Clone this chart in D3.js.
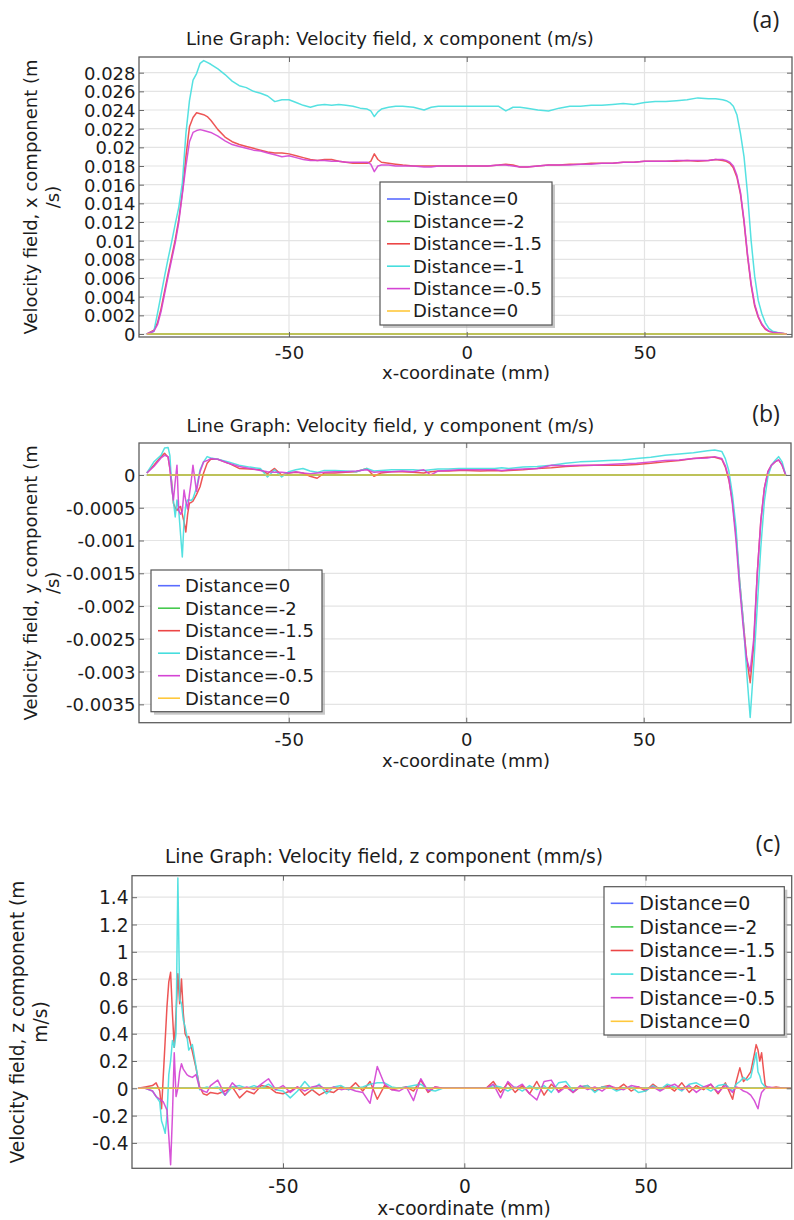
<!DOCTYPE html>
<html><head><meta charset="utf-8">
<script src="https://cdn.jsdelivr.net/npm/d3@7"></script>
<style>
body{margin:0;background:#fff;}
svg{display:block;font-family:"DejaVu Sans",sans-serif;}
</style></head><body>
<svg id="chart" width="794" height="1220"></svg>
<script>
// ---------------- shared ----------------
const seriesNames = ["Distance=0","Distance=-2","Distance=-1.5","Distance=-1","Distance=-0.5","Distance=0"];
const seriesColors = ["#5a6cff","#46c94e","#ec4646","#46dede","#d444d4","#ffc83c"];
const xTicks = [-50, 0, 50];
const xTickLabels = ["-50", "0", "50"];
const zeroX = [-90, 90];
const zeroY = [0, 0];

// ---------------- panel (a): x component (m/s) ----------------
const aX = [-90,-88,-87,-86,-85,-84,-83,-82,-81,-80,-79,-78,-77,-76,-75,-74,-73,-72,-70,-68,-66,-64,-62,-60,-58,-56,-54,-52,-50,-48,-46,-44,-42,-40,-38,-36,-34,-32,-30,-28,-27,-26,-25,-24,-22,-20,-18,-15,-12,-10,-8,-5,-2,0,3,6,9,11,13,15,17,20,23,26,29,32,35,38,41,44,47,50,53,56,59,62,65,68,70,72,73,74,75,76,77,78,79,80,81,82,83,84,85,86,88,90];
const aRed = [0,0.0004,0.0012,0.0027,0.0046,0.0065,0.0083,0.0101,0.0123,0.0152,
0.0190,0.0222,0.0232,0.0237,0.0236,0.0235,0.0233,0.0229,
0.0219,0.0211,0.0206,0.0203,0.0201,0.0199,0.0197,0.0195,0.0194,0.0194,
0.0193,0.0191,0.0189,0.0187,0.0186,0.0187,0.0187,0.0185,0.0184,0.0183,
0.0183,0.0183,0.0185,0.0193,0.0187,0.0184,0.0183,0.0182,0.0181,0.0180,
0.0180,0.0180,0.0180,0.0180,0.0180,0.0180,0.0180,0.0180,0.0181,0.0182,
0.0181,0.0179,0.0179,0.0180,0.0181,0.0181,0.0182,0.0182,0.0183,0.0183,
0.0183,0.0184,0.0184,0.0185,0.0185,0.0185,0.0185,0.0186,0.0185,0.0186,
0.0187,0.0186,0.0185,0.0183,0.0178,0.0168,0.0150,0.0120,0.0083,0.0052,
0.0030,0.0018,0.0010,0.0005,0.0003,0.0002,0.0001,0];
const aCyan = [0,0.0003,0.0022,0.0042,0.0062,0.0081,0.0099,0.0118,0.0136,0.0162,
0.0215,0.0250,0.0272,0.0279,0.0290,0.0293,0.0291,0.0289,
0.0284,0.0278,0.0271,0.0266,0.0264,0.0260,0.0258,0.0255,0.0249,0.0251,
0.0251,0.0248,0.0245,0.0243,0.0245,0.0246,0.0245,0.0246,0.0245,0.0244,
0.0242,0.0241,0.0239,0.0233,0.0238,0.0241,0.0243,0.0244,0.0244,0.0243,
0.0240,0.0243,0.0244,0.0244,0.0244,0.0244,0.0244,0.0244,0.0244,0.0239,
0.0243,0.0243,0.0242,0.0240,0.0239,0.0242,0.0244,0.0244,0.0245,0.0245,
0.0246,0.0247,0.0246,0.0248,0.0249,0.0249,0.0250,0.0251,0.0253,0.0252,
0.0252,0.0251,0.0250,0.0248,0.0244,0.0235,0.0215,0.0190,0.0150,0.0100,
0.0062,0.0036,0.0022,0.0012,0.0006,0.0003,0.0001,0];
const aMagenta = [0,0.0003,0.0010,0.0024,0.0043,0.0062,0.0080,0.0098,0.0120,0.0150,
0.0180,0.0206,0.0216,0.0218,0.0219,0.0218,0.0217,0.0216,
0.0212,0.0207,0.0203,0.0201,0.0199,0.0197,0.0196,0.0194,0.0192,0.0190,
0.0191,0.0189,0.0187,0.0186,0.0186,0.0186,0.0185,0.0185,0.0184,0.0184,
0.0184,0.0184,0.0182,0.0174,0.0180,0.0181,0.0181,0.0180,0.0180,0.0180,
0.0179,0.0179,0.0180,0.0180,0.0180,0.0180,0.0180,0.0180,0.0181,0.0181,
0.0180,0.0179,0.0179,0.0180,0.0181,0.0181,0.0181,0.0182,0.0182,0.0183,
0.0183,0.0184,0.0184,0.0185,0.0185,0.0185,0.0186,0.0186,0.0186,0.0186,
0.0187,0.0187,0.0186,0.0184,0.0180,0.0170,0.0152,0.0122,0.0085,0.0054,
0.0032,0.0019,0.0011,0.0006,0.0003,0.0002,0.0001,0];
const aYTicks = [0,0.002,0.004,0.006,0.008,0.01,0.012,0.014,0.016,0.018,0.02,0.022,0.024,0.026,0.028];
const aYTickLabels = ["0","0.002","0.004","0.006","0.008","0.01","0.012","0.014","0.016","0.018","0.02","0.022","0.024","0.026","0.028"];

// ---------------- panel (b): y component (m/s) ----------------
const bX = [-90,-88,-86,-85,-84,-83.5,-83,-82.5,-82,-81.5,-81,-80.5,-80,-79.5,-79,-78.5,-78,-77.5,-77,-76,-75,-74,-73,-72,-70,-67,-64,-61,-58,-56,-54,-52,-50,-48,-46,-44,-42,-40,-37,-34,-31,-28,-26,-24,-21,-18,-15,-12,-10,-8,-5,-2,0,4,8,10,12,16,20,24,28,32,36,40,44,48,52,56,60,64,68,70,72,73,74,75,76,77,78,79,80,81,82,83,84,85,86,87,88,89,90];
const bRed = [0.00003,0.00015,0.00028,0.00033,0.00027,0.0001,-0.0001,-0.00043,-0.0005,-0.00054,
-0.0005,-0.00048,-0.0006,-0.00072,-0.00087,-0.0006,-0.00043,-0.00042,-0.0004,-0.0003,
-0.00018,0.00003,0.00018,0.00024,0.00024,0.00018,0.0001,0.00009,0.00008,0.00002,
0.0001,0,0.00003,0.00004,0.00003,-0.00002,-0.00005,0.00003,0.00003,0.00004,
0.00005,0.0001,-0.00002,0.00003,0.00005,0.00005,0.00004,0.00003,0.00005,0.00006,
0.00006,0.00007,0.00007,0.00006,0.00007,0.00006,0.00007,0.00008,0.0001,0.00011,
0.00013,0.00014,0.00015,0.00015,0.00015,0.00016,0.00018,0.0002,0.00022,0.00025,
0.00027,0.00027,0.00024,0.00012,-0.00008,-0.0004,-0.0009,-0.0016,-0.0022,-0.0028,
-0.00317,-0.0026,-0.0015,-0.0007,-0.0002,0.00005,0.00015,0.0002,0.00023,0.00015,
0];
const bCyan = [0.00003,0.0002,0.0003,0.00041,0.00042,0.0003,-0.00015,-0.0004,-0.00064,-0.00038,
-0.00054,-0.0009,-0.00125,-0.0007,-0.00045,-0.00038,-0.00038,-0.00039,-0.00036,-0.0002,
0.00008,0.0002,0.00028,0.00026,0.00024,0.0002,0.00015,0.00012,0.0001,-0.00003,
0.00008,-0.00003,0.00005,0.00008,0.0001,0.00006,0.00004,0.00007,0.00007,0.00006,
0.00005,0.0001,0.00006,0.00007,0.00008,0.00008,0.00008,0.00007,0.00008,0.00009,
0.00009,0.0001,0.0001,0.0001,0.0001,0.00011,0.0001,0.00012,0.00013,0.00015,
0.00018,0.0002,0.00021,0.00022,0.00023,0.00025,0.00027,0.0003,0.00032,0.00034,
0.00037,0.00038,0.00036,0.00025,0.00006,-0.0003,-0.0008,-0.0016,-0.0022,-0.0030,
-0.0037,-0.0029,-0.0020,-0.0011,-0.0004,-0.00002,0.00015,0.00022,0.00028,0.0002,
0];
const bMagenta = [0.00003,0.00013,0.00026,0.0003,0.00028,0.0001,-0.0002,-0.00038,-0.0001,0.00015,
-0.00054,-0.0006,-0.00055,-0.00023,-0.0004,-0.00052,-0.0003,-0.0001,0.00015,-0.00025,
0.00005,0.0002,0.00022,0.00025,0.00024,0.00018,0.00013,0.0001,0.00007,0.00005,
0.00004,0.00004,0.00003,0.00005,0.00003,0.00002,0.00003,0.00004,0.00005,0.00005,
0.00006,0.00008,0.00004,0.00005,0.00005,0.00006,0.00005,0.00008,0,0.00006,
0.00007,0.00008,0.00008,0.00008,0.00008,0.00007,0.00008,0.00009,0.0001,0.00015,
0.00014,0.00015,0.00015,0.00016,0.00017,0.00018,0.0002,0.00022,0.00023,0.00025,
0.00026,0.00028,0.00025,0.00014,-0.00005,-0.00045,-0.001,-0.0017,-0.0023,-0.0028,
-0.0030,-0.0025,-0.0015,-0.0007,-0.0002,0.00005,0.00015,0.0002,0.00023,0.00015,
0];
const bYTicks = [0,-0.0005,-0.001,-0.0015,-0.002,-0.0025,-0.003,-0.0035];
const bYTickLabels = ["0","-0.0005","-0.001","-0.0015","-0.002","-0.0025","-0.003","-0.0035"];

// ---------------- panel (c): z component (mm/s) ----------------
const cX = [-90,-88,-86,-85,-84,-83.5,-83,-82.5,-82,-81.5,
-81,-80.5,-80,-79.5,-79,-78.5,-78,-77.5,-77,-76.5,
-76,-75,-74,-73,-72,-71,-70,-68,-66,-64,
-62,-60,-58,-56,-54,-52,-50,-48,-46,-44,
-42,-40,-38,-36,-34,-32,-30,-28,-26,-24,
-22,-20,-18,-16,-14,-12,-10,-8,-6,-4,
-2,0,2,4,6,8,10,12,14,16,
18,20,22,24,26,28,30,32,34,36,
38,40,42,44,46,48,50,52,54,56,
58,60,62,64,66,68,70,72,74,75,
76,77,78,79,80,80.5,81,81.5,82,83,
84,86,88,90];
const cRed = [0,0.01,0.02,0.04,-0.02,-0.15,0.1,0.35,0.6,0.78,
0.85,0.55,0.3,0.55,0.84,0.62,0.8,0.55,0.4,0.37,
0.38,0.27,0.15,0.01,-0.04,-0.05,-0.03,-0.04,-0.02,0.01,
-0.07,-0.02,-0.04,0.02,0.01,-0.03,-0.04,-0.02,0.01,-0.05,
-0.01,-0.05,-0.02,-0.03,0.01,-0.01,0.04,-0.02,0.05,-0.08,
0.02,-0.01,0,0.01,-0.02,0.06,-0.03,0.01,0,0,
0,0,0,0,0,0.05,-0.03,0.04,-0.03,0.02,
-0.04,0.05,-0.05,0.03,-0.02,0.02,-0.03,0.01,0.02,-0.02,
0.01,0.02,-0.01,0.03,-0.02,0.01,-0.02,0.03,-0.01,0.02,
-0.02,0.04,-0.03,0.02,-0.01,0.03,-0.04,0.04,-0.08,0.05,
0.15,0.05,0.08,0.12,0.25,0.32,0.28,0.2,0.26,0.02,
0,0.01,0,0];
const cCyan = [0,0,-0.02,-0.06,-0.1,-0.24,-0.28,-0.33,-0.2,0.1,
0.2,0.35,0.3,0.4,1.54,0.65,0.62,0.5,0.45,0.38,
0.28,0.32,0.16,-0.01,0,0.01,0,0.01,-0.05,0.01,
0.02,0,0.02,0,0.03,-0.01,-0.02,-0.07,-0.02,0.05,
-0.01,0.03,-0.04,0.01,0.02,-0.01,0,0.01,0.03,0.04,
0.04,0.01,0,0.01,0.02,0.03,-0.01,-0.02,0,0,
0,0,0,0,0,0.02,0.01,-0.02,0.01,-0.02,
0.02,-0.01,0.02,-0.03,0.04,0.05,-0.02,0.01,0.02,-0.03,
0.01,0.01,-0.02,0,0.01,-0.03,-0.02,0.02,-0.01,0.03,
0.01,-0.02,0.03,0.04,0.01,-0.02,0.02,0.03,-0.02,0.03,
0.05,0.08,0.06,0.08,0.2,0.26,0.12,0.09,0.04,0.01,
0,0,0,0];
const cMagenta = [0,0,-0.02,-0.06,-0.08,-0.09,-0.1,-0.13,-0.16,-0.35,
-0.56,-0.2,0.26,-0.06,0,0.12,0.18,0.14,0.12,0.1,
0.09,0.08,0.1,0,-0.02,-0.03,0.02,0.06,-0.05,0.04,
-0.01,0.01,-0.01,0.03,0.07,-0.01,0.02,-0.03,0.01,-0.02,
0.01,0.02,-0.01,0.01,-0.01,0,-0.02,-0.03,-0.11,0.16,
0.03,-0.01,-0.02,0.01,-0.09,0.07,-0.02,0.01,0,0,
0,0,0,0,0,0.03,-0.07,0.05,0,0.03,
-0.04,-0.085,0.05,0.06,-0.03,0.01,-0.03,0.02,-0.01,0.01,
-0.02,0.02,0,-0.01,0.02,0.01,-0.01,0.01,-0.02,0.01,
0.03,-0.01,0.02,-0.03,0.01,0.03,-0.03,0.02,-0.03,0.01,
0,-0.02,-0.03,-0.05,-0.09,-0.12,-0.15,-0.08,-0.03,0,
0.01,0,0,0];
const cYTicks = [-0.4,-0.2,0,0.2,0.4,0.6,0.8,1,1.2,1.4];
const cYTickLabels = ["-0.4","-0.2","0","0.2","0.4","0.6","0.8","1","1.2","1.4"];

// ---------------- layout ----------------
const panels = [
  { key:"a", title:"Line Graph: Velocity field, x component (m/s)", tag:"(a)",
    ylab:["Velocity field, x component (m","/s)"],
    xs:aX, vals:[zeroY,zeroY,aRed,aCyan,aMagenta,zeroY],
    yTicks:aYTicks, yLabels:aYTickLabels,
    xDomain:[-92.2,91.5], yDomain:[-0.00032,0.02968],
    left:139, right:792, top:57, bottom:337,
    fs:18, titleX:390, titleY:45, tagX:766, tagY:28,
    ylabX:[37,59], xTickY:358.5, xLabX:466, xLabY:379,
    leg:{x:380,y:182,w:172,h:143,row0:199,dy:22.4,s0:387,s1:410,tx:413,fs:18} },
  { key:"b", title:"Line Graph: Velocity field, y component (m/s)", tag:"(b)",
    ylab:["Velocity field, y component (m","/s)"],
    xs:bX, vals:[zeroY,zeroY,bRed,bCyan,bMagenta,zeroY],
    yTicks:bYTicks, yLabels:bYTickLabels,
    xDomain:[-92.2,91.5], yDomain:[-0.00378,0.000488],
    left:139, right:791, top:443, bottom:722.7,
    fs:18, titleX:390.5, titleY:432, tagX:766, tagY:422,
    ylabX:[37,59], xTickY:746, xLabX:466, xLabY:767,
    leg:{x:151,y:570,w:171,h:141.7,row0:585.7,dy:22.5,s0:158,s1:180,tx:185,fs:18} },
  { key:"c", title:"Line Graph: Velocity field, z component (mm/s)", tag:"(c)",
    ylab:["Velocity field, z component (m","m/s)"],
    xs:cX, vals:[zeroY,zeroY,cRed,cCyan,cMagenta,zeroY],
    yTicks:cYTicks, yLabels:cYTickLabels,
    xDomain:[-91.65,90.3], yDomain:[-0.586,1.5575],
    left:132, right:791.7, top:875.7, bottom:1168.3,
    fs:18.6, titleX:384, titleY:863, tagX:768, tagY:852,
    ylabX:[24,47], xTickY:1193, xLabX:464, xLabY:1215,
    leg:{x:604,y:886.7,w:180.3,h:148.3,row0:903.3,dy:23.6,s0:610.7,s1:633.3,tx:639.3,fs:19} }
];

const svg = d3.select("#chart");
const textColor = "#1c1c1c";

panels.forEach(p => {
  const g = svg.append("g");
  const x = d3.scaleLinear().domain(p.xDomain).range([p.left, p.right]);
  const y = d3.scaleLinear().domain(p.yDomain).range([p.bottom, p.top]);

  // grid
  g.append("g").selectAll("line.h").data(p.yTicks).join("line")
    .attr("x1", p.left).attr("x2", p.right)
    .attr("y1", d => y(d)).attr("y2", d => y(d))
    .attr("stroke", "#e4e4e4").attr("stroke-width", 1.2);
  g.append("g").selectAll("line.v").data(xTicks).join("line")
    .attr("y1", p.top).attr("y2", p.bottom)
    .attr("x1", d => x(d)).attr("x2", d => x(d))
    .attr("stroke", "#e4e4e4").attr("stroke-width", 1.2);

  // lines
  const clipId = "clip-" + p.key;
  svg.append("defs").append("clipPath").attr("id", clipId).append("rect")
    .attr("x", p.left).attr("y", p.top).attr("width", p.right - p.left).attr("height", p.bottom - p.top);
  const lg = g.append("g").attr("clip-path", `url(#${clipId})`);
  p.vals.forEach((vals, i) => {
    const xs = vals === zeroY ? zeroX : p.xs;
    const pts = xs.map((xv, j) => [xv, vals[j]]);
    lg.append("path")
      .attr("d", d3.line().x(d => x(d[0])).y(d => y(d[1]))(pts))
      .attr("fill", "none")
      .attr("stroke", seriesColors[i])
      .attr("stroke-width", 1.5)
      .attr("stroke-opacity", i === 5 ? 0.8 : 0.92)
      .attr("stroke-linejoin", "round");
  });

  // axes (inward ticks)
  const fs = p.fs;
  const ax = g.append("g").attr("transform", `translate(${p.left},0)`)
    .call(d3.axisLeft(y).tickValues(p.yTicks).tickFormat((d, i) => p.yLabels[i])
      .tickSizeInner(-5).tickSizeOuter(0).tickPadding(3.5));
  const bx = g.append("g").attr("transform", `translate(0,${p.bottom})`)
    .call(d3.axisBottom(x).tickValues(xTicks).tickFormat((d, i) => xTickLabels[i])
      .tickSizeInner(-5).tickSizeOuter(0));
  const rx = g.append("g").attr("transform", `translate(${p.right},0)`)
    .call(d3.axisRight(y).tickValues(p.yTicks).tickFormat("").tickSizeInner(-5).tickSizeOuter(0));
  const tx = g.append("g").attr("transform", `translate(0,${p.top})`)
    .call(d3.axisTop(x).tickValues(xTicks).tickFormat("").tickSizeInner(-5).tickSizeOuter(0));
  [ax, bx, rx, tx].forEach(a => {
    a.select(".domain").remove();
    a.selectAll(".tick line").attr("stroke", "#6a6a6a").attr("stroke-width", 1);
    a.selectAll("text").attr("fill", textColor).attr("font-size", fs)
      .attr("font-family", '"DejaVu Sans", sans-serif');
  });
  ax.selectAll("text").attr("dy", "0.36em");
  bx.selectAll("text").attr("y", p.xTickY - p.bottom).attr("dy", 0);

  // frame
  g.append("rect").attr("x", p.left).attr("y", p.top)
    .attr("width", p.right - p.left).attr("height", p.bottom - p.top)
    .attr("fill", "none").attr("stroke", "#5e5e5e").attr("stroke-width", 1.3);

  // texts
  g.append("text").attr("x", p.titleX).attr("y", p.titleY).attr("text-anchor", "middle")
    .attr("font-size", fs).attr("fill", textColor).text(p.title);
  g.append("text").attr("x", p.tagX).attr("y", p.tagY).attr("text-anchor", "middle")
    .attr("font-family", '"Open Sans", sans-serif').attr("font-size", 23)
    .attr("fill", "#222").text(p.tag);
  g.append("text").attr("x", p.xLabX).attr("y", p.xLabY).attr("text-anchor", "middle")
    .attr("font-size", fs).attr("fill", textColor).text("x-coordinate (mm)");
  const cy = (p.top + p.bottom) / 2;
  p.ylab.forEach((t, i) => {
    g.append("text").attr("transform", `translate(${p.ylabX[i]},${cy}) rotate(-90)`)
      .attr("text-anchor", "middle").attr("font-size", fs).attr("fill", textColor).text(t);
  });

  // legend
  const L = p.leg;
  const lgd = g.append("g");
  lgd.append("rect").attr("x", L.x + 3).attr("y", L.y + 3).attr("width", L.w).attr("height", L.h)
    .attr("fill", "#9a9a9a").attr("opacity", 0.55);
  lgd.append("rect").attr("x", L.x).attr("y", L.y).attr("width", L.w).attr("height", L.h)
    .attr("fill", "#fff").attr("stroke", "#555").attr("stroke-width", 1.2);
  seriesNames.forEach((name, i) => {
    const ry = L.row0 + i * L.dy;
    lgd.append("line").attr("x1", L.s0).attr("x2", L.s1).attr("y1", ry).attr("y2", ry)
      .attr("stroke", seriesColors[i]).attr("stroke-width", 1.6);
    lgd.append("text").attr("x", L.tx).attr("y", ry).attr("dy", "0.36em")
      .attr("font-size", L.fs).attr("fill", textColor).text(name);
  });
});
</script>
</body></html>
